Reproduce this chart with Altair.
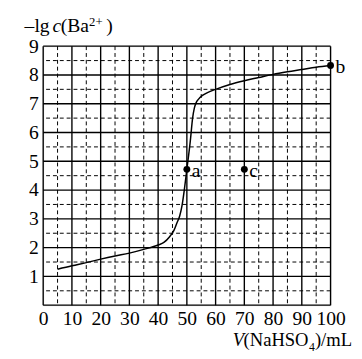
import altair as alt
import pandas as pd

# Curve data: V(NaHSO4)/mL vs -lg c(Ba2+)
curve_v = [5, 10, 15, 20, 25, 30, 35, 40, 42, 44, 45.5, 46.5, 47.5, 48.3, 49.1, 50,
           51.2, 52, 52.6, 53.2, 54, 55.3, 57, 60, 65, 70, 75, 80, 85, 90, 95, 100]
curve_pc = [1.25, 1.37, 1.48, 1.6, 1.71, 1.81, 1.94, 2.09, 2.18, 2.38, 2.6, 2.85, 3.1, 3.45, 4.0, 4.72,
            5.71, 6.5, 6.85, 7.03, 7.15, 7.28, 7.38, 7.5, 7.67, 7.8, 7.91, 8.02, 8.11, 8.19, 8.27, 8.33]

point_labels = ["a", "b", "c"]
point_v = [50, 100, 70]
point_pc = [4.72, 8.33, 4.72]

x_ticks = [0, 10, 20, 30, 40, 50, 60, 70, 80, 90, 100]
y_ticks = [1, 2, 3, 4, 5, 6, 7, 8, 9]
solid_x = [0, 10, 20, 30, 40, 50, 60, 70, 80, 90, 100]
dashed_x = [5, 15, 25, 35, 45, 55, 65, 75, 85, 95]
solid_y = [0, 1, 2, 3, 4, 5, 6, 7, 8, 9]
dashed_y = [0.5, 1.5, 2.5, 3.5, 4.5, 5.5, 6.5, 7.5, 8.5]

FONT = "Liberation Serif"
W, H = 294, 265

xs = alt.Scale(domain=[0, 100], nice=False)
ys = alt.Scale(domain=[0, 9], nice=False)

curve_df = pd.DataFrame({"v": curve_v, "pc": curve_pc})
pts_df = pd.DataFrame({"v": point_v, "pc": point_pc, "lab": point_labels})

x_axis = alt.Axis(values=x_ticks, title=None, domain=False, ticks=False, grid=False,
                  labelFont=FONT, labelFontSize=20, labelColor="black", labelPadding=4,
                  labelFlush=False, labelOverlap=False)
y_axis = alt.Axis(values=y_ticks, title=None, domain=False, ticks=False, grid=False,
                  labelFont=FONT, labelFontSize=20, labelColor="black", labelPadding=5,
                  labelFlush=False, labelOverlap=False)


def X(f="v:Q"):
    return alt.X(f, scale=xs, axis=x_axis)


def Y(f="pc:Q"):
    return alt.Y(f, scale=ys, axis=y_axis)


dash_v = alt.Chart(pd.DataFrame({"v": dashed_x})).mark_rule(
    color="black", strokeWidth=1, strokeDash=[4, 3]).encode(x=X())
dash_h = alt.Chart(pd.DataFrame({"pc": dashed_y})).mark_rule(
    color="black", strokeWidth=1, strokeDash=[4, 3]).encode(y=Y())
solid_v = alt.Chart(pd.DataFrame({"v": solid_x})).mark_rule(
    color="black", strokeWidth=1.4).encode(x=X())
solid_h = alt.Chart(pd.DataFrame({"pc": solid_y})).mark_rule(
    color="black", strokeWidth=1.4).encode(y=Y())

line = alt.Chart(curve_df).mark_line(color="black", strokeWidth=1.5, interpolate="monotone").encode(
    x=X(), y=Y())

pts = alt.Chart(pts_df).mark_circle(color="black", opacity=1, size=50).encode(x=X(), y=Y())

pt_text = alt.Chart(pts_df).mark_text(font=FONT, fontSize=20, align="left", baseline="middle",
                                      dx=5, dy=2, color="black").encode(
    x=X(), y=Y(), text="lab:N")


def txt(s, x, y, size=20, style="normal", align="left"):
    return alt.Chart(pd.DataFrame({"t": [s]})).mark_text(
        font=FONT, fontSize=size, fontStyle=style, align=align, baseline="alphabetic",
        color="black").encode(x=alt.value(x), y=alt.value(y), text="t:N")


# y title: –lg c(Ba2+)
ytitle = [
    txt("–lg", -19, -15),
    txt("c", 9.5, -15, style="italic"),
    txt("(Ba", 18, -15),
    txt("2+", 47, -21, size=13),
    txt(")", 64.5, -15),
]
# x title: V(NaHSO4)/mL
xtitle = [
    txt("V", 194, 307, size=19, style="italic"),
    txt("(NaHSO", 205, 307, size=19),
    txt("4", 272, 312, size=12),
    txt(")/mL", 278, 307, size=19),
]

chart = alt.layer(dash_v, dash_h, solid_v, solid_h, line, pts, pt_text, *ytitle, *xtitle).properties(
    width=W, height=H,
    padding={"left": 36, "top": 35, "right": 24, "bottom": 51},
    autosize=alt.AutoSizeParams(type="none"),
).configure_view(stroke=None).configure(background="white", font=FONT).configure_axis(
    labelOverlap=False, labelFont=FONT)

chart.save("out.html", embed_options={"renderer": "svg", "actions": False})
